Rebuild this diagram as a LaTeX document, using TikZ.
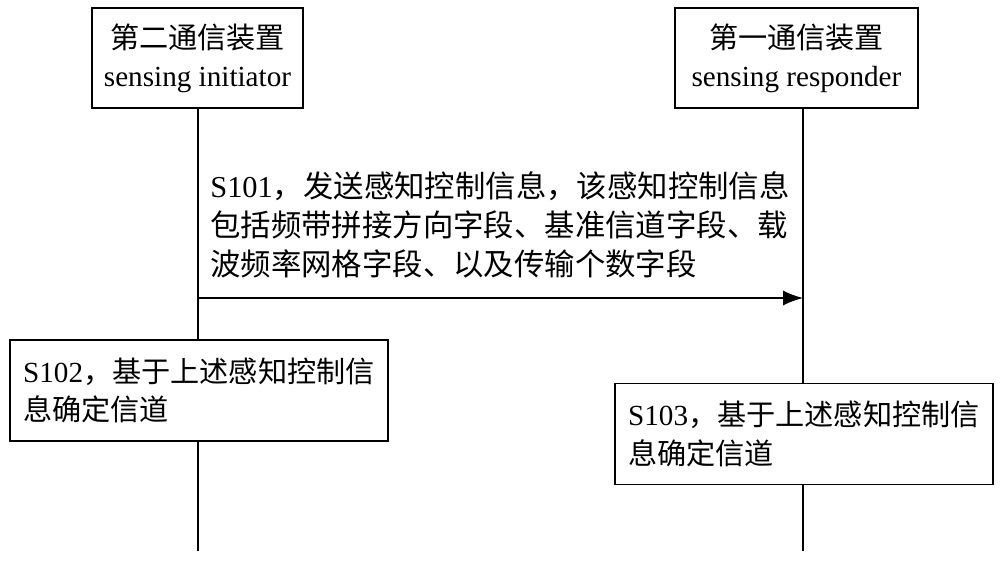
\documentclass[tikz,border=0pt]{standalone}
\usepackage{fontspec}
\setmainfont{Liberation Serif}
\newfontfamily\cjk{Noto Sans CJK SC}
\usetikzlibrary{positioning, arrows.meta}
\tikzset{
  devbox/.style = {draw, thick, minimum width=4.22cm, minimum height=2cm, align=center, font=\fontsize{16.6}{21.5}\selectfont},
  stepbox/.style = {draw, thick, minimum width=7.56cm, minimum height=2.02cm, align=left, font=\fontsize{16.6}{22}\selectfont},
  life/.style = {thick}
}
\begin{document}
\begin{tikzpicture}[x=0.02cm, y=-0.02cm]
\useasboundingbox (0,0) rectangle (1000,561);
% devices
\node[devbox] (init) at (197.5,58) {{\cjk 第二通信装置}\\sensing initiator};
\node[devbox, minimum width=4.86cm] (resp) at (796.5,58) {{\cjk 第一通信装置}\\sensing responder};
\coordinate (ibot) at (198,551);
\coordinate (rbot) at (803,551);
\draw[life] (init.south -| ibot) -- (ibot);
\draw[life] (resp.south -| rbot) -- (rbot);
% message
\coordinate (a1) at (198,298);
\coordinate (a2) at (803,298);
\draw[thick, -{Latex[length=4mm, width=3mm]}] (a1) -- (a2);
\node[align=left, font=\fontsize{17.3}{22.2}\selectfont] (msg) at (500,225)
  {S101{\cjk ，发送感知控制信息，该感知控制信息}\\{\cjk 包括频带拼接方向字段、基准信道字段、载}\\{\cjk 波频率网格字段、以及传输个数字段}};
% steps
\node[stepbox, fill=white] (s102) at (199,390.5) {S102{\cjk ，基于上述感知控制信}\\{\cjk 息确定信道}};
\node[stepbox, fill=white] (s103) at (804,434) {S103{\cjk ，基于上述感知控制信}\\{\cjk 息确定信道}};
\end{tikzpicture}
\end{document}
